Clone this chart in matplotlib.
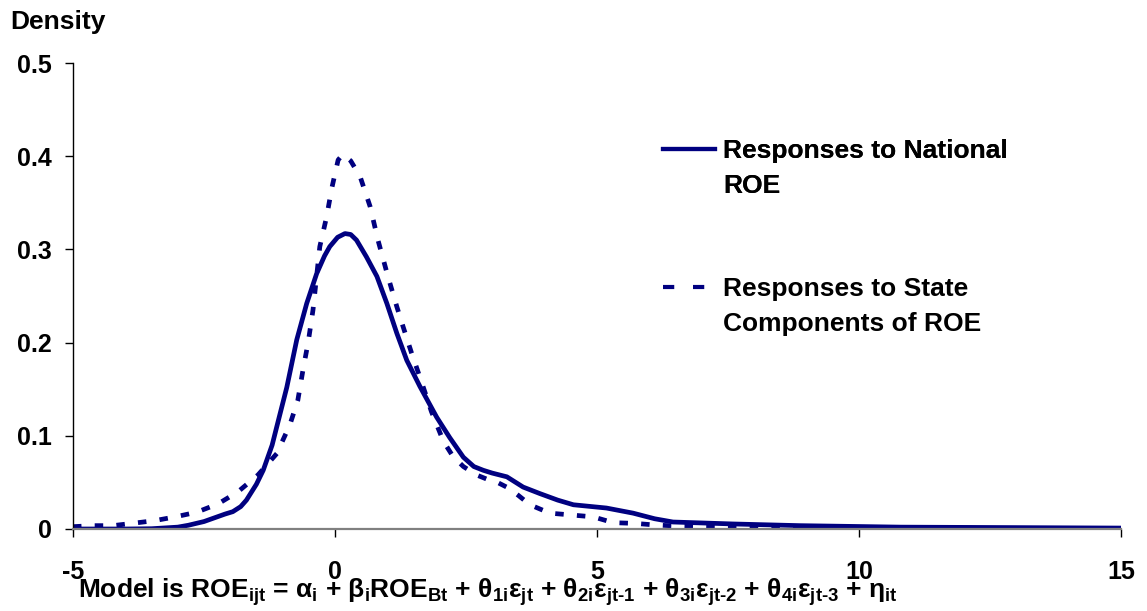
import matplotlib
matplotlib.use("Agg")
import matplotlib.pyplot as plt
from matplotlib.lines import Line2D

plt.rcParams['font.family'] = ['Liberation Sans', 'DejaVu Sans']
plt.rcParams['font.weight'] = 'bold'
plt.rcParams['mathtext.fontset'] = 'custom'
plt.rcParams['mathtext.rm'] = 'Liberation Sans:bold'
plt.rcParams['mathtext.it'] = 'Liberation Sans:bold'
plt.rcParams['mathtext.bf'] = 'Liberation Sans:bold'

# ---- data ----
national_x = [-5, -4, -3.5, -3, -2.8, -2.5, -2.3, -2.1, -1.95, -1.8, -1.69, -1.5, -1.37, -1.2,
              -1.11, -0.92, -0.73, -0.54, -0.35, -0.2, -0.1, 0.05, 0.19, 0.3, 0.41, 0.6, 0.8,
              0.99, 1.18, 1.37, 1.62, 1.94, 2.19, 2.45, 2.65, 2.83, 3.0, 3.28, 3.59, 3.91,
              4.25, 4.55, 5.18, 5.69, 6.1, 6.45, 7.6, 8.87, 10.8, 13, 15]
national_y = [0, 0, 0.0003, 0.002, 0.004, 0.008, 0.012, 0.016, 0.0186, 0.024, 0.031, 0.048,
              0.063, 0.09, 0.11, 0.152, 0.203, 0.242, 0.274, 0.293, 0.303, 0.313, 0.317,
              0.316, 0.310, 0.292, 0.271, 0.242, 0.210, 0.181, 0.153, 0.12, 0.098, 0.077,
              0.067, 0.063, 0.060, 0.056, 0.045, 0.038, 0.031, 0.026, 0.0225, 0.017, 0.011,
              0.0075, 0.0054, 0.0036, 0.002, 0.0015, 0.001]

state_x = [-5, -4.62, -4.24, -3.82, -3.44, -3.05, -2.64, -2.23, -1.85, -1.47, -1.11, -0.86,
           -0.71, -0.61, -0.51, -0.42, -0.29, -0.16, -0.06, 0.06, 0.15, 0.3, 0.48, 0.67,
           0.82, 1.01, 1.18, 1.30, 1.46, 1.65, 1.84, 2.07, 2.25, 2.45, 2.7, 2.92, 3.1, 3.31,
           3.5, 3.72, 4.1, 4.52, 4.93, 5.31, 5.73, 6.11, 6.52, 7.5, 9, 11, 13, 15]
state_y = [0.0025, 0.0036, 0.0036, 0.0064, 0.009, 0.013, 0.018, 0.027, 0.040, 0.058, 0.081,
           0.112, 0.138, 0.171, 0.201, 0.235, 0.303, 0.335, 0.366, 0.396, 0.402, 0.395,
           0.378, 0.346, 0.310, 0.271, 0.2385, 0.217, 0.189, 0.158, 0.126, 0.094, 0.078,
           0.067, 0.058, 0.053, 0.050, 0.044, 0.036, 0.026, 0.017, 0.015, 0.013, 0.0068,
           0.006, 0.0043, 0.0032, 0.002, 0.0015, 0.001, 0.0005, 0.0003]

x_ticks = [-5, 0, 5, 10, 15]
y_ticks = [0, 0.1, 0.2, 0.3, 0.4, 0.5]
y_tick_labels = ['0', '0.1', '0.2', '0.3', '0.4', '0.5']
label_national = ["Responses to National", "ROE"]
label_state = ["Responses to State", "Components of ROE"]

NAVY = '#000080'
FS = 18
FL = 19

fig = plt.figure(figsize=(11.47, 6.11), dpi=100)
ax = fig.add_axes([73/1147, 1 - 529/611, (1121 - 73)/1147, (529 - 63)/611])

ax.plot(national_x, national_y, color=NAVY, lw=3.4, solid_capstyle='round')
ax.plot(state_x, state_y, color=NAVY, lw=3.4, linestyle=(0, (1.8, 2.8)))

ax.set_xlim(-5, 15)
ax.set_ylim(0, 0.5)
ax.set_xticks(x_ticks)
ax.set_xticklabels([str(v) for v in x_ticks])
ax.set_yticks(y_ticks)
ax.set_yticklabels(y_tick_labels)

for s in ['top', 'right']:
    ax.spines[s].set_visible(False)
ax.spines['left'].set_color('black')
ax.spines['left'].set_linewidth(1.0)
ax.spines['bottom'].set_color('#808080')
ax.spines['bottom'].set_linewidth(1.6)

ax.tick_params(axis='x', direction='out', length=6, width=1, color='black',
               pad=16, labelsize=FS)
ax.tick_params(axis='y', direction='out', length=6, width=1, color='black',
               pad=9, labelsize=FS)
for lab in ax.get_xticklabels() + ax.get_yticklabels():
    lab.set_fontweight('bold')

# legends
blank = Line2D([], [], linestyle='none')
h_nat = Line2D([], [], color=NAVY, lw=3)
h_state = Line2D([], [], color=NAVY, lw=3, linestyle=(0, (2.7, 4.5)))

leg_kw = dict(loc='upper left', frameon=False, borderpad=0, borderaxespad=0,
              handlelength=1.97, handletextpad=0.3, labelspacing=0.42,
              prop={'size': FL, 'weight': 'bold'})
leg1 = fig.legend([h_nat, blank], label_national,
                  bbox_to_anchor=(663/1147, 1 - 139/611), **leg_kw)
fig.add_artist(leg1)
leg2 = fig.legend([h_state, blank], label_state,
                  bbox_to_anchor=(663/1147, 1 - 277/611), **leg_kw)

fig.text(10/1147, 1 - 22/611, 'Density', fontsize=FL, fontweight='bold',
         ha='left', va='center')

model = (r"Model is ROE$_{\text{ijt}}$ = α$_{\text{i}}$ + β$_{\text{i}}$ROE$_{\text{Bt}}$"
         r" + θ$_{\text{1i}}$ε$_{\text{jt}}$ + θ$_{\text{2i}}$ε$_{\text{jt-1}}$"
         r" + θ$_{\text{3i}}$ε$_{\text{jt-2}}$ + θ$_{\text{4i}}$ε$_{\text{jt-3}}$ + η$_{\text{it}}$")
fig.text(78/1147, 1 - 598/611, model, fontsize=FL, fontweight='bold',
         ha='left', va='baseline')

fig.savefig('out.png', dpi=100)
